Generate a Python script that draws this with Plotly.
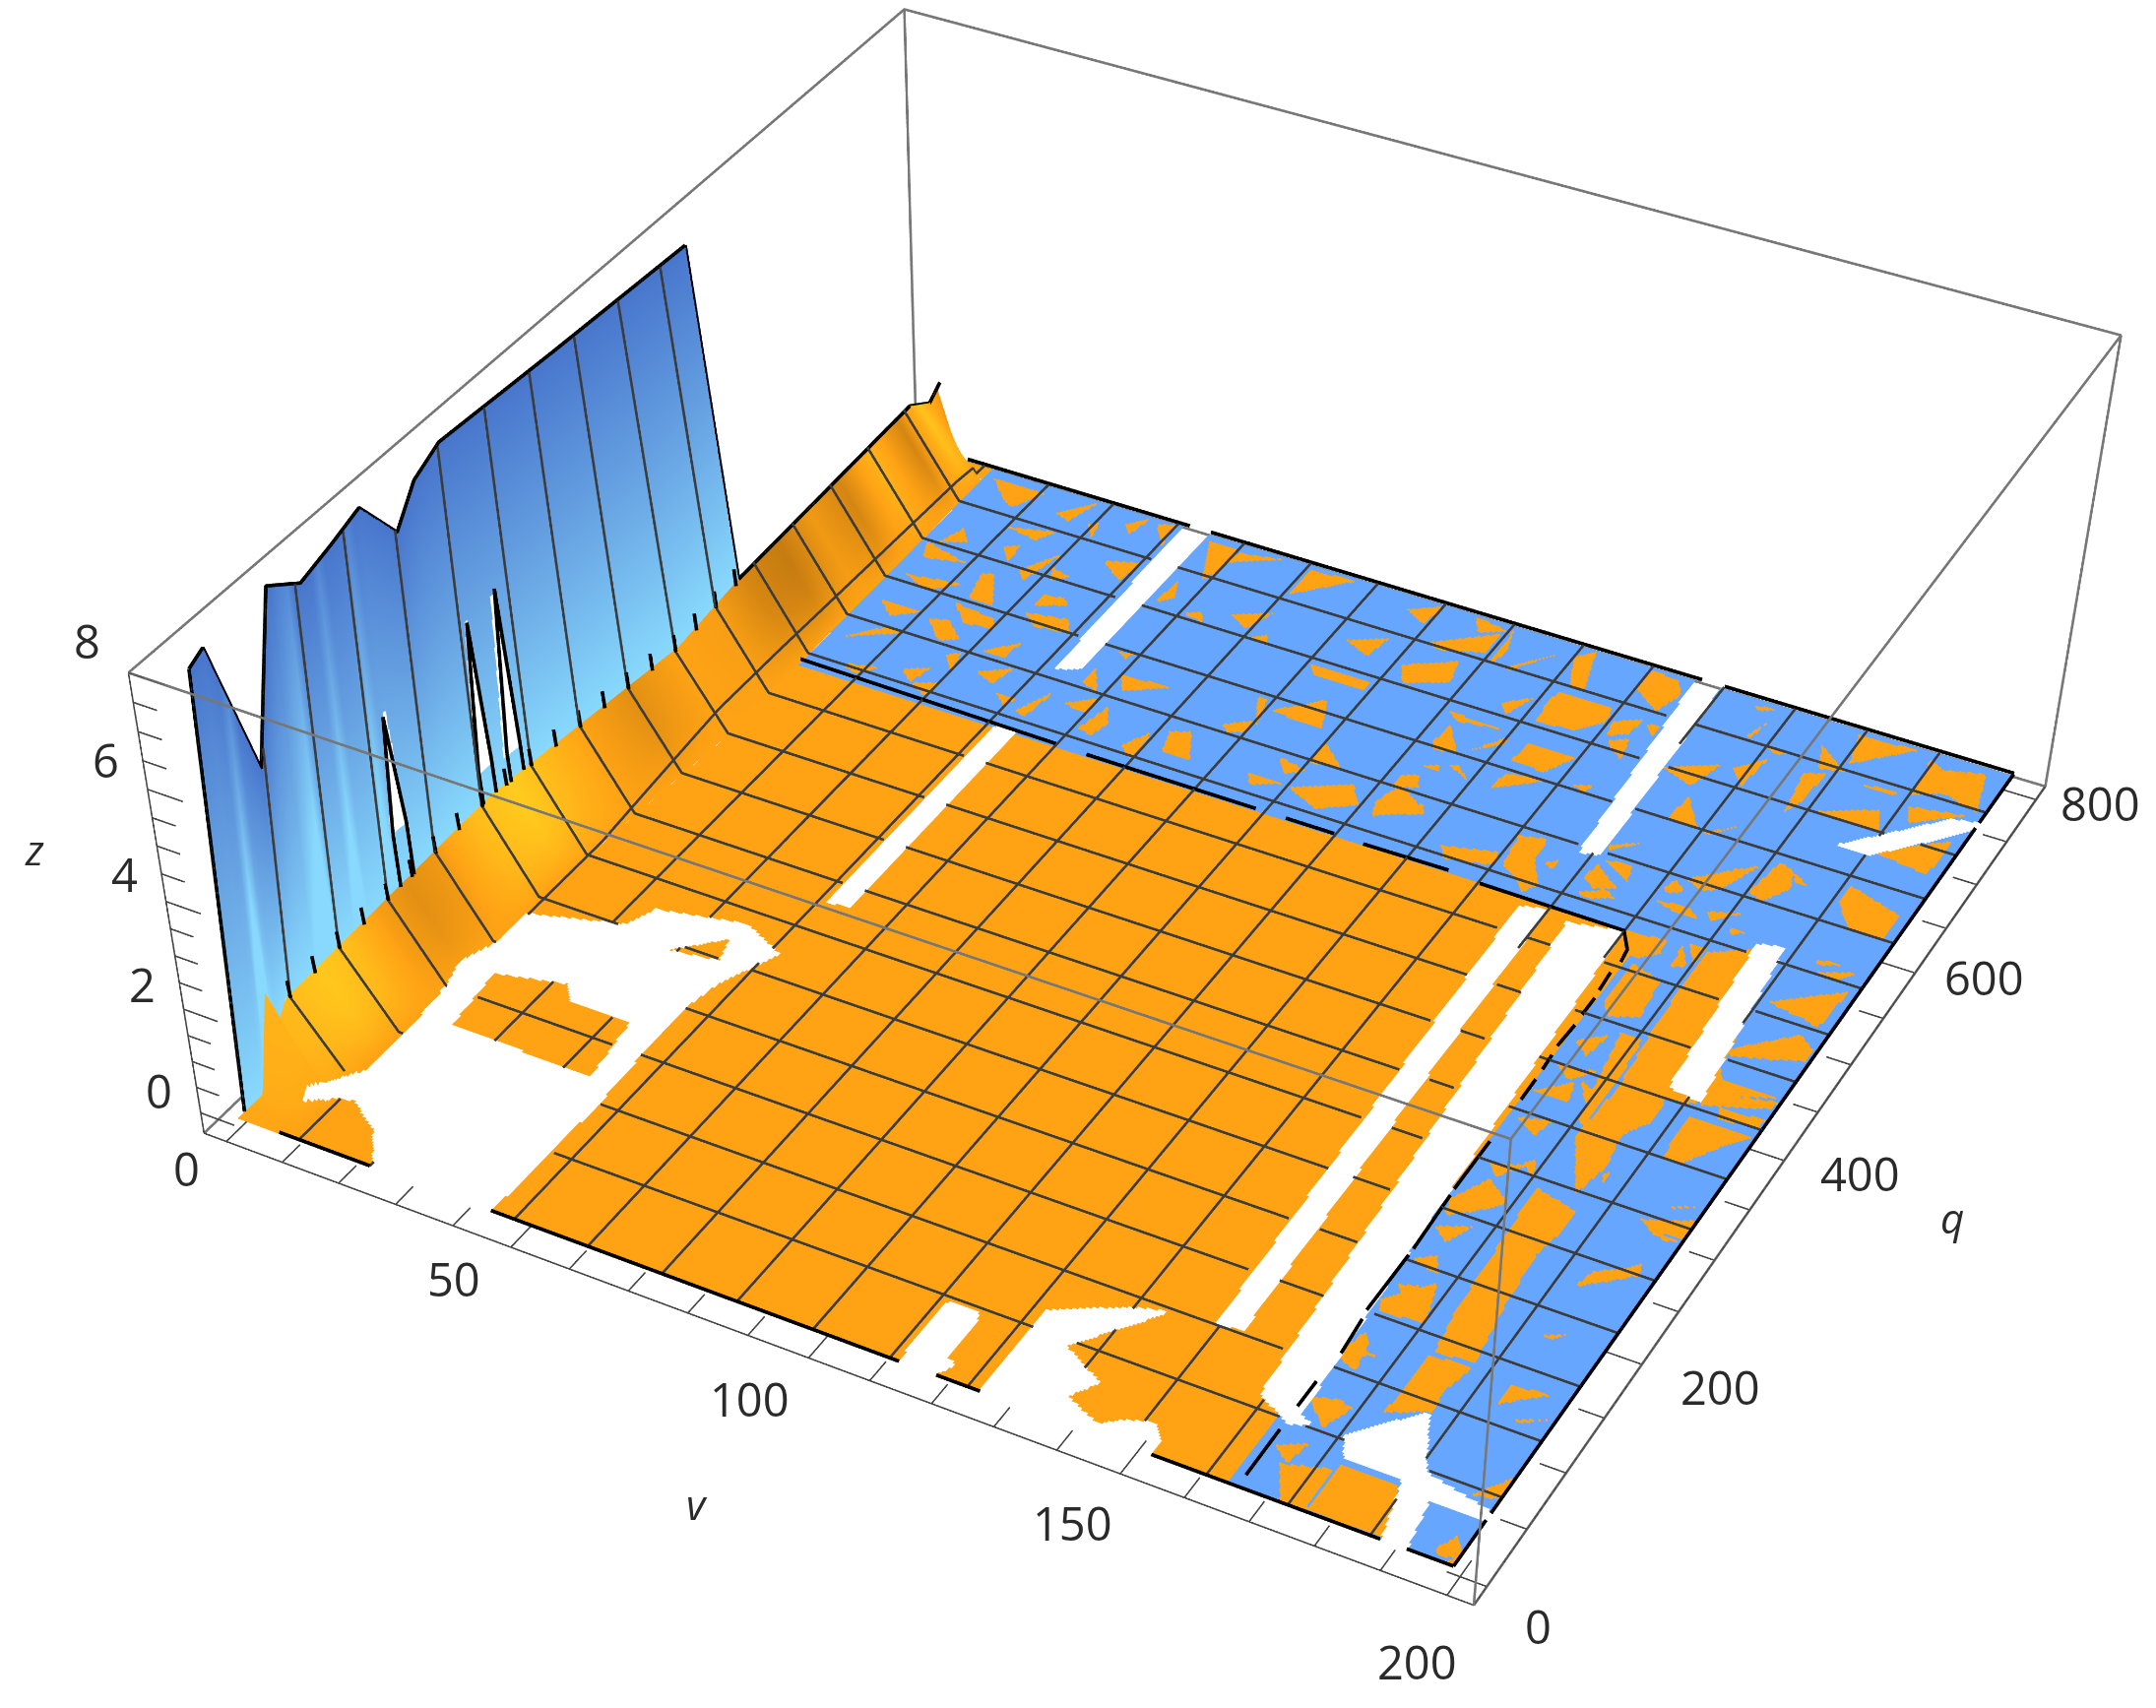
import numpy as np
import plotly.graph_objects as go

# ---------- data ----------
V_TICK_LABELS=[0,50,100,150,200]
Q_TICK_LABELS=[0,200,400,600,800]
Z_TICK_LABELS=[0,2,4,6,8]
V_RANGE=[-4,204]; Q_RANGE=[-16,816]; Z_RANGE=[-0.4,8.0]
MESH_V=[12.5*k for k in range(1,16)]
MESH_Q=[50*k for k in range(1,16)]
wall_q=[14,28,62,88,118,149,178,210,231,258,376,523]
wall_top=[7.73,7.87,5.22,7.98,7.57,7.75,7.95,7.05,7.64,7.90,7.77,7.64]
foot_q=[-10,15,30,36,47,170,262,455,531,758,785,800]
foot_z=[0,0,1.7,0.9,1.27,1.4,1.5,1.35,1.48,1.5,1.17,1.37]
foot_vq=[-10,262,455,800]
foot_v=[1.5,2.3,5.5,3.4]
kink_q=[-10,262,455,780,800]
kink_v=[11,11.6,14.8,14,6]
shade_q=[0,40,80,110,140,170,200,240,280,310,350,400,450,500,540,580,620,660,700,740,770,800]
shade_v=[.55,.75,.95,.8,.45,.3,.4,.8,1,.8,.5,.3,.5,.45,.2,.1,.4,.2,.7,.2,.9,.3]
streak_q=[14,36,42,48,90,100,106,112,128,135,142,158,165,172,500]
streak_v=[0,0,.45,0,0,.3,.45,0,0,.35,0,0,.3,0,0]
slit_q=[170,258,286]; slit_lo=[2.40,2.13,2.02]; slit_hi=[4.43,4.76,4.96]
hatch_q=[50,75,100,125,150,175,200,225,250,275,300,325,350,375,400,425,450,475,500,525]
BLUE_Q=538; BLUE_VMIN=14; BLUE_V=165.5
V_LABEL_DX=[-40,-58,-60,-48,-30]; V_LABEL_DY=[-27,-32,-42,-50,-67]
Q_LABEL_DX=[52,80,77,70,65]; Q_LABEL_DY=[-40,-23,-13,-5,-4]
Z_LABEL_DX=[-42]*5; Z_LABEL_DY=[23,25,28,30,32]
HOLES=["51.2 331,54.7 334,54.9 542,51.0 537","52.0 613,55.4 620,55.5 803,51.0 797","149.3 102,153.1 106,149.5 532,145.5 527",
"161.5 63,153.8 526,162.0 534,168.0 67,168.2 48","147.9 595,151.0 599,149.2 803,145.0 797","183.9 413,189.2 408,185.5 566,181.6 561",
"183.0 678,187.8 677,198.0 723,200.8 740,195.7 734","113.9 -11,113.5 40,113.9 47,118.5 46,119.1 40,119.3 6,120.9 3,119.3 -10,119.3 -30,113.9 -30",
"127.0 -12,126.9 39,127.0 67,137.2 91,142.0 98,137.8 75,132.5 46,140.4 28,137.6 10,144.4 -2,147.5 8,151.3 14,153.4 4,153.7 -30,127 -30",
"7.4 29,12.1 63,12.2 103,11.2 155,10.3 176,12.0 202,12.1 233,27.1 253,29.0 274,43.2 288,51.1 272,46.8 231,45.7 206,45.7 152,46.3 101,45.6 -30,25.0 -30,25.0 -5,20.7 20,14.4 37",
"175.6 55,183.6 92,188.4 49,200.4 37,200.5 32,191.3 30,193.5 -30,190.4 -30,186.6 38,177.5 40","165.0 58,170.5 55,168.5 50"]
ISLANDS=["16.8 122,15.5 176,27.1 189,29.6 176,40.5 174,42.2 118","35.2 243,42.9 273,44.5 249"]
ORANGE="""15.8 786,25.8 788,22.6 762,20.3 767|18.6 725,21.3 712,16.8 702|27.0 719,29.6 725,30.2 703|36.6 768,38.0 773,38.9 754|46.7 790,49.9 796,50.3 769|27.9 684,29.8 688,34.0 656,29.5 655|39.9 682,43.5 685,45.2 679,40.1 668|37.1 713,41.2 708,39.1 699|28.1 647,36.3 642,37.8 632,32.4 629|26.8 622,29.7 628,34.2 611,31.1 604|16.7 628,24.5 626,20.6 613|39.8 659,47.1 665,49.1 651,43.0 647|38.9 607,43.6 628,43.0 607|34.3 593,36.3 599,37.4 577|46.3 572,50.6 570,49.5 561|16.7 578,22.1 603,25.0 600|33.2 555,37.6 564,37.0 546|56.9 788,62.4 790,62.4 762,61.2 746|62.9 786,70.3 793,61.1 769|75.6 758,75.5 790,84.0 794|57.7 738,59.5 719,57.1 709|62.7 707,65.5 714,66.9 703|58.9 648,61.1 652,60.8 643|57.4 627,61.0 603,57.6 607|62.3 626,71.5 630,64.4 611|57.6 581,62.2 597,62.5 578|63.1 562,64.6 591,66.9 575,65.8 559|71.5 559,74.1 581,74.6 548|76.5 586,79.6 593,82.9 566,78.0 564|83.1 609,87.0 622,87.7 610,84.6 603|84.5 647,86.2 648,88.2 615|88.1 637,94.9 665,97.7 634|95.1 596,100.5 590,97.8 580|99.8 623,105.0 604,100.2 598|92.9 570,99.1 571,94.2 560|100.2 569,108.9 591,112.0 573,106.4 557|114.0 581,115.6 606,122.0 586,115.1 567|114.9 655,115.3 678,119.6 652,115.8 648|101.1 722,108.9 743,110.2 719,103.3 704|102.7 748,107.7 772,109.4 758|87.9 694,98.9 695,98.8 684,89.9 685|75.5 703,78.1 711,78.9 701|101.8 752,111.6 784,111.5 760,105.2 749|105.6 794,112.2 789,108.1 778|113.4 754,112.9 793,114.4 771,114.1 754|116.6 753,123.5 788,117.0 749|124.8 783,127.5 795,130.3 751,127.6 753|137.4 770,137.6 793,142.5 791,144.6 777,142.8 753|127.0 707,126.3 730,127.0 744,136.4 743,137.0 728,133.5 709|113.5 691,122.7 688,115.7 683|128.1 662,128.5 682,137.0 684,133.8 658,131.7 661|139.2 709,142.3 718,143.3 694|137.9 730,141.9 741,141.7 722,138.7 714|142.9 737,145.4 740,145.3 726|128.4 628,128.7 647,135.9 654|139.7 656,142.4 662,142.0 652|121.0 658,125.0 683,125.3 675|114.5 601,114.3 614,116.8 620,118.4 607|120.0 638,121.4 641,124.2 629|115.9 629,118.6 635,119.4 629|114.8 578,114.2 596,116.6 584,121.0 593,122.1 584,115.8 570|128.0 560,136.8 571,137.4 557,129.9 549|138.7 560,137.7 592,142.1 598,142.5 575,145.8 552,144.3 541,142.0 552|144.2 575,146.2 582,146.0 570|151.3 572,151.5 589,156.9 572,153.7 565|151.9 595,156.7 598,157.5 581|151.6 557,155.7 568,157.5 562,153.9 554|150.9 609,155.5 622,151.9 605|156.5 653,156.7 681,161.6 651|163.0 650,167.3 667,164.1 650|163.1 585,164.0 597,166.4 589,164.1 582|162.8 573,168.7 575,170.9 568,166.9 567|168.3 608,171.3 626,171.2 602|175.1 607,176.5 644,179.3 639,180.5 622,177.9 602|179.3 639,183.2 628,180.3 630|171.3 577,176.8 586,172.8 569|176.5 569,179.2 569,176.7 562|165.5 516,164.2 537,169.0 539,169.5 525,167.2 516|172.1 516,171.6 540,174.3 521|172.5 542,175.0 544,175.2 523|166.7 468,167.0 509,172.2 501,173.2 464,168.8 455|175.7 540,183.8 563,188.2 464,188.8 405,183.4 399,182.4 352,183.3 331,181.9 298,176.3 346,177.2 397,176.2 449,175.7 495|188.5 513,198.4 545,197.7 504,195.2 508|190.9 565,195.7 568,191.7 560|192.6 554,197.9 565,195.8 552|188.4 463,196.2 494,199.1 484,199.3 472,188.7 455|188.6 413,188.4 444,192.1 421,199.5 430,199.3 422,189.6 405|192.5 408,199.5 411,199.2 403,193.0 398|189.5 350,189.2 392,199.5 394,191.1 354|183.4 321,184.4 326,184.6 313|195.6 315,200.2 325,195.7 314|192.6 296,200.0 310,200.3 299,195.9 295|194.7 289,200.5 290,197.5 285|193.4 244,196.7 261,197.3 252|172.2 444,175.7 445,176.6 398,176.2 356,175.1 360|171.6 394,175.2 385,174.3 376|183.5 285,183.7 266,182.6 240,183.3 195,184.8 141,178.8 139,177.6 178,176.9 243,176.2 293|185.1 138,183.7 116,183.9 94,177.9 81,178.4 93,178.4 135|166.4 261,169.5 287,174.3 273,170.9 258,167.2 246|167.4 164,172.8 192,175.0 158,168.1 154|167.3 203,170.2 213,172.1 198|167.0 110,168.4 136,169.9 128,170.9 104|167.5 74,171.5 79,173.9 76,172.1 54|172.2 309,173.5 316,175.0 299|166.3 371,171.1 390,172.2 371|181.9 -14,182.2 7,187.8 -1,185.5 -6|196.2 -1,197.9 13,200.8 -1,196.9 -6|198.0 -11,199.6 0,203.2 -14|200.6 11,201.2 30,202.9 12|195.9 45,202.2 84,202.2 43,200.7 50|194.2 109,199.4 120,195.4 108|191.2 117,191.0 135,196.9 137|190.3 179,193.8 188,192.3 179|190.3 225,191.1 242,196.9 258,197.6 252|195.4 314,199.0 322,195.8 313|193.3 294,200.2 311,200.8 292,194.9 289|189.7 351,199.1 395,192.2 350|182.1 359,181.8 412,184.6 397,184.8 377|170.2 18,177.0 28,177.3 -13,174.6 -15|177.4 -6,177.6 33,186.3 34,190.4 -6,181.2 -8|175.8 759,174.2 790,184.1 793|187.7 747,186.9 787,189.8 781,196.0 790,198.6 749,192.1 758|188.4 735,197.6 743,190.1 719|171.8 692,170.4 736,173.6 743,173.2 710|175.3 701,184.7 723,186.7 704|157.5 650,156.9 679,161.2 654|158.2 754,160.1 778,159.2 756|161.7 753,166.5 751,164.2 746|156.0 789,160.3 792,157.2 784|177.5 743,185.7 745,185.1 740|187.5 681,198.2 715,198.1 690,197.4 675|188.3 624,188.2 643,197.8 629,198.2 601,192.8 600|165.2 601,174.1 635,171.2 602,168.8 594|189.0 463,195.9 491,199.4 474,194.2 463|190.1 434,200.1 434,191.2 419|15 700,24 690,17 682|17 660,27 668,22 650|25 740,33 750,31 735|33 700,37 730,35 690|44 735,50 745,49 720|41 585,46 600,45 578|30 565,34 575,33 555|20 552,27 560,24 546|52 560,55 590,54 556|52 640,55 670,53 625|42 780,45 795,44 770|30 770,35 795,33 765|70 720,76 735,74 710|90 730,96 745,95 720|95 780,100 795,99 770|120 715,124 730,122 705|150 700,158 720,156 690|160 720,164 740,163 705|170 770,176 750,172 745|167 345,172 352,171 335|168 300,173 308,170 290|167 235,172 245,170 225|168 180,171 185,170 172|168 125,172 120,169 115|168 30,172 40,171 20|167 425,171 440,170 415|167 400,173 405,170 390""".split("|")
DASHES=["13.3 542,62.3 539","68.0 538,98.4 538","103.7 538,112.2 538","117.4 537,132.1 538","137.8 535,162.4 534,164.8 518,165.2 505","164.9 493,165.2 474","165.4 466,165.4 448","165.5 437,165.3 414","165.5 405,165.7 390","165.8 380,165.9 359","166.0 316,166.1 268","166.2 262,166.7 210","166.7 204,166.7 151","167.0 143,167.6 112","167.2 85,167.2 62","167.3 0,167.2 41"]

# ---------- camera ----------
FIG_W=2190; FIG_H=4200
EYE=(2.4237,-4.6588,3.4651); CENTER=(0.7006,-1.4898,-0.6067); ASPECT=(1.7527,1.7850,0.6415)
PAD=1.02   # scene slightly larger than the drawn box so its edges are not clipped

ORANGE_C="#FFA315"; BLUE_C="#66A6FF"; MESH_C="#3c3c3c"; BOX_C="#777777"; AXIS_C="#444444"
def parse(s): return np.array([[float(a) for a in p.split()] for p in s.split(",")])
def inside(poly,v,q):
    out=np.zeros(v.shape,bool)
    sel=(v>=poly[:,0].min())&(v<=poly[:,0].max())&(q>=poly[:,1].min())&(q<=poly[:,1].max())
    if not sel.any(): return out
    x=v[sel];y=q[sel];c=np.zeros(x.shape,bool)
    n=len(poly)
    for i in range(n):
        x1,y1=poly[i];x2,y2=poly[(i+1)%n]
        if y1==y2: continue
        c^=((y1>y)!=(y2>y))&(x<(x2-x1)*(y-y1)/(y2-y1)+x1)
    out[sel]=c
    return out
holes=[parse(s) for s in HOLES]; islands=[parse(s) for s in ISLANDS]; patches=[parse(s) for s in ORANGE]
def holemask(v,q):
    m=np.zeros(v.shape,bool)
    for p in holes: m|=inside(p,v,q)
    for p in islands: m&=~inside(p,v,q)
    return m
vb=lambda q:np.interp(q,foot_vq,foot_v)
zb=lambda q:np.interp(q,foot_q,foot_z)
vk=lambda q:np.interp(q,kink_q,kink_v)
LIFT_V=3.6; LIFT_Q=43.6
Q0=-10.;Q1=797.;V1=200.

fig=go.Figure()
flat=dict(ambient=1,diffuse=0,specular=0,roughness=1,fresnel=0)
vf=np.arange(9,V1+.01,.4); qf=np.arange(Q0,Q1+.01,2.)
VV,QQ=np.meshgrid(vf,qf)
col=(((QQ>=BLUE_Q)&(VV>=BLUE_VMIN))|(VV>=BLUE_V)).astype(float)
for p in patches: col[inside(p,VV,QQ)]=0
ZZ=np.zeros(VV.shape); ZZ[holemask(VV,QQ)|(VV<vk(QQ)-.3)]=np.nan
fig.add_trace(go.Surface(x=vf,y=qf,z=ZZ,surfacecolor=col,cmin=0,cmax=1,colorscale=[[0,ORANGE_C],[.5,ORANGE_C],[.5,BLUE_C],[1,BLUE_C]],showscale=False,lighting=flat,hoverinfo="skip"))
qs=np.arange(Q0,Q1+.01,2.); tt=np.linspace(0,1,50)
T,QS=np.meshgrid(tt,qs)
VS=vb(QS)+(vk(QS)-vb(QS))*T; ZS=zb(QS)*(1-T)
cs=.5+(np.interp(QS,shade_q,shade_v)-.5)*(1-T**3)
ZS2=ZS.copy(); ZS2[holemask(VS-LIFT_V*ZS,QS+LIFT_Q*ZS)]=np.nan
fig.add_trace(go.Surface(x=VS,y=QS,z=ZS2,surfacecolor=cs,cmin=0,cmax=1,colorscale=[[0,"#B87210"],[.5,ORANGE_C],[1,"#FFCB1E"]],showscale=False,lighting=flat,hoverinfo="skip"))
qt=np.arange(14,523.01,1.); st=np.linspace(0,1,80)
S,QT=np.meshgrid(st,qt); QB=np.interp(QT,[14,523],[-3,531])
VW=vb(QB)+(0.2-vb(QB))*S; QW=QB+(QT-QB)*S
ZT=np.interp(QT,wall_q,wall_top); ZBW=zb(QB); ZW=ZBW+(ZT-ZBW)*S
ZWF=ZW.copy()
for qq,lo,hi in zip(slit_q,slit_lo,slit_hi):
    w=7*(hi-ZWF)/(hi-lo)
    ZW[(np.abs(QB-qq)<w)&(ZWF>lo)&(ZWF<hi)]=np.nan
cw=np.clip(S-np.interp(QT,streak_q,streak_v)*(1-.5*S),0,1)
fig.add_trace(go.Surface(x=VW,y=QW,z=ZW,surfacecolor=cw,cmin=0,cmax=1,colorscale=[[0,"#88D9FD"],[.45,"#6CAAE6"],[1,"#4876CC"]],showscale=False,lighting=flat,hoverinfo="skip"))

def lines(segs,color,width):
    xs,ys,zs=[],[],[]
    for s in segs:
        xs+=list(s[0])+[None];ys+=list(s[1])+[None];zs+=list(s[2])+[None]
    fig.add_trace(go.Scatter3d(x=xs,y=ys,z=zs,mode="lines",line=dict(color=color,width=width),hoverinfo="skip",showlegend=False))
def broken(v,q,z):
    m=holemask(v-LIFT_V*z,q+LIFT_Q*z)
    z2=np.array(z,float);z2[m]=np.nan
    return [list(v),list(q),[None if np.isnan(a) else float(a) for a in z2]]
EPS=.035
mesh=[]
for m in MESH_V:
    q=np.arange(Q0,Q1+.01,2.)
    mesh.append(broken(np.full(q.shape,m)*1.,q,np.where(m<vk(q),zb(q)*(vk(q)-m)/np.maximum(vk(q)-vb(q),.1),0)+EPS))
for m in MESH_Q:
    v=np.arange(V1,vk(m),-1.); v=np.r_[v,vk(m),np.linspace(vk(m),vb(m),12)]
    z=np.where(v<vk(m),zb(m)*(vk(m)-v)/(vk(m)-vb(m)),0)+EPS
    mesh.append(broken(v,np.full(v.shape,float(m)),z))
    if m<=500:
        i=np.argmin(np.abs(QB[:,0]-m))
        zz=ZBW[i,0]+(ZT[i,0]-ZBW[i,0])*st
        mesh.append([list(VW[i,:]+.25),list(QW[i,:]),[float(a) for a in zz]])
lines(mesh,MESH_C,5)
v=np.arange(9,V1+.01,1.); ed=[broken(v,np.full(v.shape,Q0),np.full(v.shape,EPS)),broken(v,np.full(v.shape,Q1),np.full(v.shape,EPS))]
q=np.arange(Q0,Q1+.01,2.); ed.append(broken(np.full(q.shape,V1),q,np.full(q.shape,EPS)))
for s in DASHES:
    p=parse(s); ed.append([list(p[:,0]),list(p[:,1]),[EPS]*len(p)])
lines(ed,"#000000",7)
ol=[[[.2]*len(qt),list(qt),list(np.interp(qt,wall_q,wall_top))],[[.2,vb(-3)],[14,-3],[wall_top[0],0]],[[.2,vb(531)],[523,531],[wall_top[-1],zb(531)]]]
for qq,lo,hi in zip(slit_q,slit_lo,slit_hi):
    vs=vb(qq)+.1
    ol.append([[vs,vs-.6,vs],[qq-7,qq,qq+7],[lo,hi,lo]])
    ol.append([[vs,vs+.3],[qq-7,qq-7],[lo,zb(qq)]])
    ol.append([[vs,vs+.3],[qq+7,qq+7],[lo,zb(qq)]])
for h in hatch_q:
    ol.append([[vb(h)+.4,vb(h)+.15],[h,h],[zb(h)-.02,zb(h)+.3]])
qq=np.array([q_ for q_ in foot_q if q_>=531],float)
ol.append([list(vb(qq)),list(qq),list(zb(qq))])
lines(ol,"#000000",7)
a0,a1=V_RANGE;b0,b1=Q_RANGE;c0,c1=Z_RANGE
lines([[[a0,a0],[b0,b1],[c0,c0]],[[a0,a1,a1],[b1,b1,b0],[c0,c0,c0]],
 [[a0,a1,a1,a0,a0],[b0,b0,b1,b1,b0],[c1,c1,c1,c1,c1]],[[a1,a1],[b0,b0],[c0,c1]],[[a1,a1],[b1,b1],[c0,c1]],[[a0,a0],[b1,b1],[c0,c1]]],BOX_C,5)
tk=[[[a0,a1],[b0,b0],[c0,c0]],[[a1,a1],[b0,b1],[c0,c0]],[[a0,a0],[b0,b0],[c0,c1]]]
for t in np.arange(0,201,10):
    tk.append([[t,t],[b0,b0+(30 if t%50==0 else 18)],[c0,c0]])
for t in np.arange(0,801,50):
    tk.append([[a1,a1-(6 if t%200==0 else 4)],[t,t],[c0,c0]])
for t in np.arange(0,8.01,.5):
    tk.append([[a0,a0+(6 if t%2==0 else 4)],[b0,b0],[t,t]])
lines(tk,AXIS_C,3)
FONT=dict(family="Open Sans",size=47,color="#2a2a2a")
ann=[]
for t,dx,dy in zip(V_TICK_LABELS,V_LABEL_DX,V_LABEL_DY): ann.append(dict(x=t,y=b0,z=c0,text=str(t),showarrow=False,font=FONT,xshift=dx,yshift=dy))
for t,dx,dy in zip(Q_TICK_LABELS,Q_LABEL_DX,Q_LABEL_DY): ann.append(dict(x=a1,y=t,z=c0,text=str(t),showarrow=False,font=FONT,xshift=dx,yshift=dy))
for t,dx,dy in zip(Z_TICK_LABELS,Z_LABEL_DX,Z_LABEL_DY): ann.append(dict(x=a0,y=b0,z=t,text=str(t),showarrow=False,font=FONT,xshift=dx,yshift=dy))
TITLES=[("v",700,1519),("q",1975,1228),("z",27,854)]
paper=[dict(xref="paper",yref="paper",x=x/FIG_W,y=1-y/FIG_H,xanchor="center",yanchor="middle",text="<i>%s</i>"%s,showarrow=False,font=dict(family="Open Sans",size=42,color="#2a2a2a")) for s,x,y in TITLES]
def padded(r):
    c=(r[0]+r[1])/2;h=(r[1]-r[0])/2*PAD
    return [c-h,c+h]
ax=dict(visible=False,showspikes=False)
fig.update_layout(width=FIG_W,height=FIG_H,margin=dict(l=0,r=0,t=0,b=0),showlegend=False,paper_bgcolor="white",hovermode=False,annotations=paper,
 scene=dict(domain=dict(x=[0,1],y=[0,1]),xaxis=dict(range=padded(V_RANGE),**ax),yaxis=dict(range=padded(Q_RANGE),**ax),zaxis=dict(range=padded(Z_RANGE),**ax),
  aspectmode="manual",aspectratio=dict(x=ASPECT[0]*PAD,y=ASPECT[1]*PAD,z=ASPECT[2]*PAD),annotations=ann,
  camera=dict(eye=dict(x=EYE[0],y=EYE[1],z=EYE[2]),center=dict(x=CENTER[0],y=CENTER[1],z=CENTER[2]),up=dict(x=0,y=0,z=1))))
fig.write_html("out.html")
